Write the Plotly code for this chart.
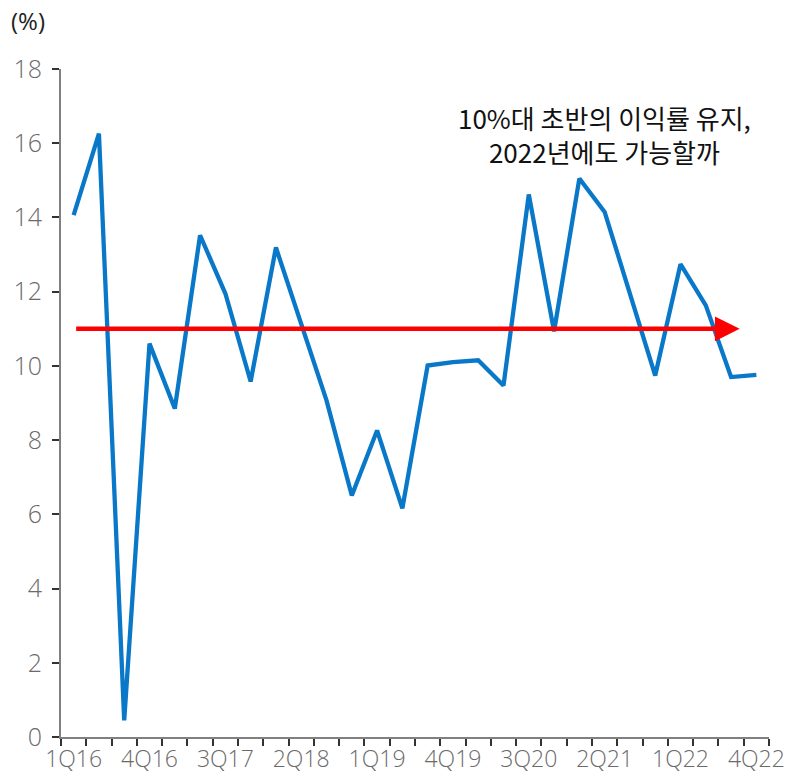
import plotly.graph_objects as go

quarters = ["1Q16", "2Q16", "3Q16", "4Q16",
            "1Q17", "2Q17", "3Q17", "4Q17",
            "1Q18", "2Q18", "3Q18", "4Q18",
            "1Q19", "2Q19", "3Q19", "4Q19",
            "1Q20", "2Q20", "3Q20", "4Q20",
            "1Q21", "2Q21", "3Q21", "4Q21",
            "1Q22", "2Q22", "3Q22", "4Q22"]
margin_pct = [14.06, 16.26, 0.45, 10.60,
              8.85, 13.52, 11.95, 9.58,
              13.19, 11.16, 9.07, 6.51,
              8.26, 6.16, 10.01, 10.10,
              10.15, 9.47, 14.62, 10.93,
              15.05, 14.15, 11.95, 9.74,
              12.74, 11.63, 9.70, 9.76]
shown_labels = ["1Q16", "4Q16", "3Q17", "2Q18", "1Q19", "4Q19", "3Q20", "2Q21", "1Q22", "4Q22"]
y_ticks = [0, 2, 4, 6, 8, 10, 12, 14, 16, 18]
target_level = 11
note_text = "10%대 초반의 이익률 유지,<br>2022년에도 가능할까"
unit_label = "(%)"

tick_text = [q if q in shown_labels else "" for q in quarters]

fig = go.Figure()
fig.add_trace(go.Scatter(
    x=quarters, y=margin_pct, mode="lines",
    line=dict(color="#0A78C8", width=4.3),
    showlegend=False, hoverinfo="skip",
))

# red arrow at target level
fig.add_annotation(
    x=26.34, y=target_level, ax=0.04, ay=target_level,
    xref="x", yref="y", axref="x", ayref="y",
    text="", showarrow=True, arrowhead=2, arrowsize=1.1,
    arrowwidth=4.5, arrowcolor="#FF0000", standoff=0, startstandoff=0,
)

fig.add_annotation(
    x=21, y=16.24, xref="x", yref="y", text=note_text, showarrow=False,
    font=dict(family="Noto Sans CJK KR", size=26, color="#111111"),
    align="center", xanchor="center", yanchor="middle",
)

fig.add_annotation(
    x=-0.073, y=1.073, xref="paper", yref="paper", text=unit_label, showarrow=False,
    font=dict(family="Open Sans", size=24, color="#222222"),
    xanchor="left", yanchor="middle",
)

fig.update_layout(
    width=790, height=779,
    margin=dict(l=61, r=21, t=69, b=42, autoexpand=False),
    paper_bgcolor="white", plot_bgcolor="white",
    font=dict(family="Open Sans", color="#6a6a6a"),
)
fig.update_xaxes(
    type="category", tickmode="array", tickvals=quarters, ticktext=tick_text,
    tickson="boundaries", ticks="outside", ticklen=7, tickwidth=1.5, tickcolor="#333333",
    showline=True, linecolor="#808080", linewidth=2, showgrid=False, zeroline=False,
    tickfont=dict(family="Open Sans", size=23, color="#6a6a6a", weight=300), tickangle=0,
    range=[-0.5, 27.5], automargin=False,
)
fig.update_yaxes(
    range=[0, 18], tickvals=y_ticks, ticks="outside", ticklen=7, tickwidth=1.5,
    tickcolor="#333333", showline=True, linecolor="#808080", linewidth=2,
    showgrid=False, zeroline=False, ticklabelstandoff=5, automargin=False,
    tickfont=dict(family="Open Sans", size=25, color="#6a6a6a", weight=300),
)

fig.write_html("out.html", post_script="document.body.style.margin='0';",
               config={"displayModeBar": False})
